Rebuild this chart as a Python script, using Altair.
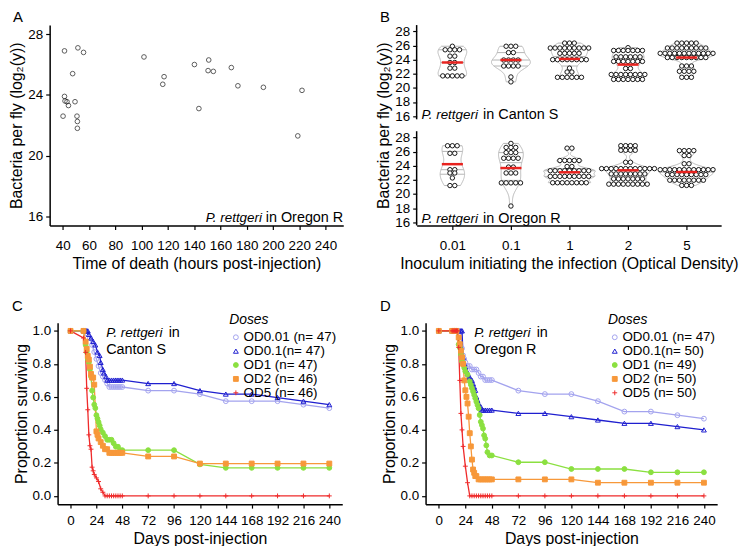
import altair as alt
import pandas as pd
import numpy as np

FONT = "Liberation Sans"

# ---------------- Panel A : load at death vs time of death ----------------
a_time = [41.3, 51.5, 55.8, 47.5, 41.3, 41.7, 43.2, 44.3, 49.3, 40.2, 50.8, 51.1, 51.1,
          101.8, 117.1, 116.1, 140.2, 151.1, 150.6, 154.6, 143.6, 168.3, 173.3, 192.7,
          222.1, 218.9]
a_load = [26.9, 27.1, 26.8, 25.4, 23.9, 23.6, 23.55, 23.3, 23.55, 22.6, 22.6, 22.25, 21.8,
          26.5, 25.2, 24.7, 26.0, 26.3, 25.6, 25.55, 23.1, 25.8, 24.6, 24.5, 24.3, 21.3]

# ---------------- Panel B : load by inoculum dose (dot rows: level, count) ----------------
b_doses = ["0.01", "0.1", "1", "2", "5"]
cs_001_lv = [25.9, 25.4, 24.5, 23.6, 22.8, 21.7]
cs_001_n = [1, 4, 2, 2, 2, 5]
cs_01_lv = [25.9, 25.0, 23.95, 23.1, 21.55, 20.85]
cs_01_n = [3, 2, 4, 4, 1, 1]
cs_1_lv = [26.35, 25.65, 24.9, 24.0, 22.8, 22.25, 21.5]
cs_1_n = [3, 9, 5, 8, 1, 2, 6]
cs_2_lv = [25.7, 25.3, 24.4, 23.75, 22.75, 21.9, 21.2]
cs_2_n = [1, 7, 6, 7, 2, 8, 7]
cs_5_lv = [26.35, 25.65, 24.9, 24.3, 23.1, 22.35, 21.5]
cs_5_n = [5, 9, 12, 9, 3, 4, 3]
cs_mean = [23.6, 23.95, 24.1, 23.3, 24.3]

or_001_lv = [26.84, 25.77, 23.45, 22.98, 22.28, 21.2]
or_001_n = [3, 2, 2, 2, 1, 2]
or_01_lv = [27.17, 26.6, 25.87, 25.07, 23.82, 22.98, 21.58, 18.3]
or_01_n = [1, 3, 3, 4, 2, 3, 5, 1]
or_1_lv = [26.5, 24.75, 23.9, 23.3, 22.5, 21.6]
or_1_n = [2, 5, 2, 9, 9, 8]
or_2_lv = [26.85, 26.2, 24.5, 23.6, 22.85, 22.15, 21.4]
or_2_n = [4, 4, 2, 12, 8, 7, 9]
or_5_lv = [26.15, 25.45, 24.29, 23.45, 22.75, 21.96, 21.22]
or_5_n = [4, 2, 2, 12, 9, 8, 3]
or_mean = [24.23, 23.68, 23.08, 23.36, 23.12]

# ---------------- Panel C : survival, Canton S ----------------
c_labels = ["OD0.01 (n= 47)", "OD0.1(n= 47)", "OD1 (n= 47)", "OD2 (n= 46)", "OD5 (n= 46)"]
c_t_001 = [0, 12, 14, 16, 18, 20, 22, 24, 26, 28, 30, 32, 34, 36, 38, 40, 42, 44, 46, 48, 72, 96, 120, 144, 168, 192, 216, 240]
c_s_001 = [1.0, 1.0, 1.0, 0.979, 0.957, 0.915, 0.872, 0.83, 0.787, 0.745, 0.723, 0.702, 0.681, 0.66, 0.66, 0.66, 0.66, 0.66, 0.66, 0.66, 0.638, 0.638, 0.617, 0.574, 0.574, 0.574, 0.553, 0.532]
c_t_01 = [0, 12, 13, 14, 15, 16, 17, 19, 21, 23, 25, 27, 28, 30, 31, 33, 34, 36, 38, 40, 42, 44, 46, 48, 72, 96, 120, 144, 168, 192, 216, 240]
c_s_01 = [1.0, 1.0, 1.0, 1.0, 1.0, 1.0, 0.979, 0.957, 0.936, 0.915, 0.872, 0.851, 0.809, 0.766, 0.745, 0.723, 0.702, 0.702, 0.702, 0.702, 0.702, 0.702, 0.702, 0.702, 0.681, 0.681, 0.638, 0.617, 0.617, 0.596, 0.574, 0.553]
c_t_1 = [0, 12, 14, 15, 16, 17, 18, 19, 20, 21, 22, 23, 24, 25, 26, 27, 28, 30, 32, 34, 36, 38, 40, 42, 44, 46, 48, 72, 96, 120, 144, 168, 192, 216, 240]
c_s_1 = [1.0, 1.0, 0.915, 0.872, 0.83, 0.809, 0.766, 0.723, 0.638, 0.596, 0.553, 0.532, 0.489, 0.468, 0.447, 0.426, 0.404, 0.383, 0.362, 0.34, 0.34, 0.34, 0.319, 0.298, 0.298, 0.277, 0.277, 0.277, 0.277, 0.191, 0.17, 0.17, 0.17, 0.17, 0.17]
c_t_2 = [0, 12, 14, 15, 16, 17, 18, 19, 20, 21, 22, 24, 25, 26, 28, 30, 32, 34, 36, 38, 40, 42, 44, 46, 48, 72, 96, 120, 144, 168, 192, 216, 240]
c_s_2 = [1.0, 1.0, 0.935, 0.891, 0.848, 0.826, 0.783, 0.739, 0.717, 0.717, 0.674, 0.391, 0.37, 0.348, 0.326, 0.304, 0.283, 0.283, 0.261, 0.261, 0.261, 0.261, 0.261, 0.261, 0.261, 0.239, 0.239, 0.196, 0.196, 0.196, 0.196, 0.196, 0.196]
c_t_5 = [0, 12, 14, 15, 16, 17, 18, 19, 20, 21, 22, 24, 26, 28, 30, 32, 34, 36, 38, 40, 42, 44, 46, 48, 72, 96, 120, 144, 168, 192, 216, 240]
c_s_5 = [1.0, 0.957, 0.87, 0.652, 0.522, 0.37, 0.304, 0.283, 0.174, 0.152, 0.13, 0.109, 0.087, 0.043, 0.022, 0.0, 0.0, 0.0, 0.0, 0.0, 0.0, 0.0, 0.0, 0.0, 0.0, 0.0, 0.0, 0.0, 0.0, 0.0, 0.0, 0.0]

# ---------------- Panel D : survival, Oregon R ----------------
d_labels = ["OD0.01 (n= 47)", "OD0.1(n= 50)", "OD1 (n= 49)", "OD2 (n= 50)", "OD5 (n= 50)"]
d_t_001 = [0, 12, 14, 16, 18, 20, 21, 22, 23, 24, 26, 28, 30, 32, 34, 36, 38, 40, 42, 44, 46, 48, 72, 96, 120, 144, 168, 192, 216, 240]
d_s_001 = [1.0, 1.0, 1.0, 1.0, 1.0, 1.0, 0.894, 0.851, 0.83, 0.809, 0.787, 0.787, 0.766, 0.766, 0.766, 0.745, 0.723, 0.723, 0.702, 0.702, 0.702, 0.702, 0.638, 0.617, 0.617, 0.574, 0.511, 0.511, 0.489, 0.468]
d_t_01 = [0, 12, 14, 16, 18, 20, 21, 22, 23, 24, 25, 26, 27, 28, 29, 30, 31, 32, 33, 34, 35, 36, 37, 38, 39, 40, 42, 44, 46, 48, 72, 96, 120, 144, 168, 192, 216, 240]
d_s_01 = [1.0, 1.0, 1.0, 1.0, 1.0, 1.0, 1.0, 0.84, 0.8, 0.78, 0.76, 0.74, 0.72, 0.72, 0.7, 0.7, 0.68, 0.66, 0.64, 0.6, 0.58, 0.56, 0.54, 0.54, 0.52, 0.52, 0.52, 0.52, 0.52, 0.52, 0.5, 0.5, 0.48, 0.46, 0.44, 0.44, 0.42, 0.4]
d_t_1 = [0, 12, 14, 16, 18, 19, 20, 21, 22, 23, 24, 26, 28, 29, 30, 31, 32, 33, 34, 35, 36, 37, 38, 39, 40, 41, 42, 43, 44, 46, 48, 72, 96, 120, 144, 168, 192, 216, 240]
d_s_1 = [1.0, 1.0, 1.0, 1.0, 0.918, 0.898, 0.857, 0.816, 0.796, 0.776, 0.755, 0.735, 0.694, 0.673, 0.653, 0.633, 0.612, 0.592, 0.571, 0.551, 0.531, 0.49, 0.449, 0.429, 0.408, 0.367, 0.347, 0.306, 0.265, 0.245, 0.245, 0.204, 0.204, 0.163, 0.163, 0.163, 0.143, 0.143, 0.143]
d_t_2 = [0, 12, 14, 16, 18, 19, 20, 21, 22, 23, 24, 25, 26, 27, 28, 29, 30, 31, 32, 33, 34, 36, 38, 40, 42, 44, 46, 48, 72, 96, 120, 144, 168, 192, 216, 240]
d_s_2 = [1.0, 1.0, 1.0, 1.0, 0.96, 0.92, 0.88, 0.84, 0.8, 0.7, 0.64, 0.6, 0.56, 0.48, 0.38, 0.3, 0.22, 0.16, 0.14, 0.12, 0.12, 0.1, 0.1, 0.1, 0.1, 0.1, 0.1, 0.1, 0.1, 0.1, 0.1, 0.08, 0.08, 0.08, 0.08, 0.08]
d_t_5 = [0, 12, 13, 14, 15, 16, 17, 18, 19, 20, 21, 22, 24, 26, 28, 30, 32, 34, 36, 38, 40, 42, 44, 46, 48, 72, 96, 120, 144, 168, 192, 216, 240]
d_s_5 = [1.0, 1.0, 1.0, 1.0, 1.0, 1.0, 1.0, 0.9, 0.7, 0.5, 0.4, 0.3, 0.18, 0.08, 0.0, 0.0, 0.0, 0.0, 0.0, 0.0, 0.0, 0.0, 0.0, 0.0, 0.0, 0.0, 0.0, 0.0, 0.0, 0.0, 0.0, 0.0, 0.0]

DOSE_COLORS = ["#a3a3ee", "#1f1fcf", "#8be040", "#f7983a", "#ef2b2b"]
DOSE_FILLS = ["transparent", "transparent", "#8be040", "#f7983a", "transparent"]
DOSE_SHAPES = ["circle", "triangle-up", "circle", "square", "M-1,0L1,0M0,-1L0,1"]

LETTER_Y = -8
ANN = 14.5      # annotation font size (regular part)
ANN_I = 13.5    # annotation font size (italic species name)
AX = dict(labelOverlap=False, labelFlush=False, labelBound=False, tickCount=60)


def one_row(**kw):
    return pd.DataFrame([kw])


def txt(x, y, s, **style):
    return alt.Chart(one_row(s=s)).mark_text(font=FONT, color="black", **style).encode(
        x=alt.value(x), y=alt.value(y), text="s:N")


# ---------------- build A ----------------
A_W, A_H = 296, 202
a_df = pd.DataFrame({"time": a_time, "load": a_load})
a_pts = alt.Chart(a_df).mark_point(shape="circle", size=22, color="black", strokeWidth=0.9, filled=False).encode(
    x=alt.X("time:Q", scale=alt.Scale(domain=[30, 253.5], nice=False, zero=False),
            axis=alt.Axis(values=list(range(40, 241, 20)), format=".0f", title="Time of death (hours post-injection)",
                          titlePadding=4, labelPadding=9, **AX)),
    y=alt.Y("load:Q", scale=alt.Scale(domain=[15.4, 28.6], nice=False, zero=False),
            axis=alt.Axis(values=[16, 20, 24, 28], format=".0f", title="Bacteria per fly (log\u2082(y))",
                          titlePadding=3, labelPadding=3, **AX)),
)
chart_a = alt.layer(
    a_pts,
    txt(A_W - 82, 195, "P. rettgeri", fontSize=ANN_I, fontStyle="italic", align="right"),
    txt(A_W, 195, "in Oregon R", fontSize=ANN, align="right"),
    txt(-37, LETTER_Y, "A", fontSize=15, align="left"),
).properties(width=A_W, height=A_H)


# ---------------- build B (two stacked panels on one offset y scale) ----------------
def nrd0(x):
    sd = np.std(x, ddof=1)
    q75, q25 = np.percentile(x, [75, 25])
    lo = min(sd, (q75 - q25) / 1.34) if q75 > q25 else sd
    return 0.9 * lo * len(x) ** -0.2


def kde(x, grid, bw):
    z = (grid[:, None] - x[None, :]) / bw
    return np.exp(-0.5 * z * z).sum(1) / (len(x) * bw * np.sqrt(2 * np.pi))


B_W, B_H, PANEL_H = 307, 202, 95
Y_LO, Y_HI = 15.55, 28.9
OFF = (B_H / PANEL_H - 1) * (Y_HI - Y_LO)   # vertical shift of the upper (Canton S) panel
DX = 0.082

vio, qs, ms, dots, frames = [], [], [], [], []
for off, groups, means in [
    (OFF, [(cs_001_lv, cs_001_n), (cs_01_lv, cs_01_n), (cs_1_lv, cs_1_n), (cs_2_lv, cs_2_n), (cs_5_lv, cs_5_n)], cs_mean),
    (0.0, [(or_001_lv, or_001_n), (or_01_lv, or_01_n), (or_1_lv, or_1_n), (or_2_lv, or_2_n), (or_5_lv, or_5_n)], or_mean),
]:
    dens = []
    for lv, cn in groups:
        vals = np.repeat(np.array(lv, float), cn)
        grid = np.linspace(vals.min(), vals.max(), 120)
        dens.append((grid, kde(vals, grid, nrd0(vals)), vals))
    dmax = max(d.max() for _, d, _ in dens)
    for k, ((lv, cn), (grid, d, vals)) in enumerate(zip(groups, dens)):
        pos = k + 1
        gid = f"{off:.1f}-{pos}"
        for g, dd in zip(grid, d):
            w = 0.47 * dd / dmax
            vio.append({"g": gid, "load": g + off, "lo": pos - w, "hi": pos + w})
        for q in np.quantile(vals, [0.25, 0.5, 0.75]):
            w = 0.47 * np.interp(q, grid, d) / dmax
            qs.append({"load": q + off, "lo": pos - w, "hi": pos + w})
        ms.append({"load": means[k] + off, "lo": pos - 0.18, "hi": pos + 0.18})
        for level, c in zip(lv, cn):
            for i in range(c):
                dots.append({"lo": pos + (i - (c - 1) / 2) * DX, "load": level + off})
    frames.append({"load": Y_LO + off, "load2": Y_HI + off})

b_ticks = [float(v) for v in range(16, 29, 2)] + [v + OFF for v in range(16, 29, 2)]
bxs = alt.Scale(domain=[0.39, 5.59], nice=False, zero=False)
bys = alt.Scale(domain=[Y_LO, Y_HI + OFF], nice=False, zero=False)
b_yax = alt.Axis(values=b_ticks, domain=False, titlePadding=3, labelPadding=3,
                 labelExpr=f"datum.value > 29.5 ? format(datum.value - {OFF}, '.0f') : format(datum.value, '.0f')",
                 title="Bacteria per fly (log\u2082(y))", **AX)
b_xax = alt.Axis(values=[1, 2, 3, 4, 5], labelExpr="['0.01','0.1','1','2','5'][datum.value - 1]",
                 title="Inoculum initiating the infection (Optical Density)", titlePadding=4, labelPadding=9, **AX)
BY = alt.Y("load:Q", scale=bys, axis=b_yax)
BX = alt.X("lo:Q", scale=bxs, axis=b_xax)

b_vio = alt.Chart(pd.DataFrame(vio)).mark_area(orient="horizontal", fill="white", fillOpacity=0,
                                               stroke="#b5b5b5", strokeWidth=1).encode(
    y=BY, x=BX, x2="hi:Q", detail="g:N")
b_q = alt.Chart(pd.DataFrame(qs)).mark_rule(color="#b5b5b5", strokeWidth=1).encode(y=BY, x=BX, x2="hi:Q")
b_dots = alt.Chart(pd.DataFrame(dots)).mark_point(shape="circle", size=20, color="black", fill="white",
                                                  filled=False, fillOpacity=1, strokeWidth=0.9).encode(
    x=BX, y=BY)
b_mean = alt.Chart(pd.DataFrame(ms)).mark_rule(color="#e8231f", strokeWidth=2.5).encode(y=BY, x=BX, x2="hi:Q")
b_frame = alt.Chart(pd.DataFrame(frames)).mark_rule(color="black", strokeWidth=1.5).encode(
    x=alt.value(0), y=BY, y2="load2:Q")
chart_b = alt.layer(
    b_vio, b_q, b_dots, b_mean, b_frame,
    txt(5, PANEL_H - 4, "P. rettgeri", fontSize=ANN_I, fontStyle="italic", align="left"),
    txt(67, PANEL_H - 4, "in Canton S", fontSize=ANN, align="left"),
    txt(5, B_H - 6, "P. rettgeri", fontSize=ANN_I, fontStyle="italic", align="left"),
    txt(67, B_H - 6, "in Oregon R", fontSize=ANN, align="left"),
    txt(-37, LETTER_Y, "B", fontSize=15, align="left"),
).properties(width=B_W, height=B_H)

# ---------------- build C / D ----------------
S_H = 183


def surv(labels, series, strain, letter, width, x0, legx):
    rows = []
    for lab, (t, s) in zip(labels, series):
        for ti, si in zip(t, s):
            rows.append({"dose": lab, "t": ti, "s": si})
    df = pd.DataFrame(rows)
    leg = alt.Legend(title="Doses", orient="none", legendX=legx, legendY=-10, titleFontStyle="italic",
                     titleFontWeight="normal", titleFontSize=14, labelFontSize=13.5, rowPadding=-6,
                     symbolSize=24, symbolStrokeWidth=1, padding=0, titlePadding=4, labelOffset=1,
                     labelFont=FONT, titleFont=FONT, labelColor="black", titleColor="black")
    sc = alt.Scale(domain=labels, range=DOSE_COLORS)
    fc = alt.Scale(domain=labels, range=DOSE_FILLS)
    shc = alt.Scale(domain=labels, range=DOSE_SHAPES)
    x = alt.X("t:Q", scale=alt.Scale(domain=[-12, 252], range=[x0, width], nice=False, zero=False),
              axis=alt.Axis(values=list(range(0, 241, 24)), format=".0f", title="Days post-injection",
                            titlePadding=3, labelPadding=6, **AX))
    y = alt.Y("s:Q", scale=alt.Scale(domain=[-0.05, 1.05], nice=False, zero=False),
              axis=alt.Axis(values=[0, 0.2, 0.4, 0.6, 0.8, 1.0], format=".1f", title="Proportion surviving",
                            titlePadding=3, labelPadding=3, offset=-x0, **AX))
    line = alt.Chart(df).mark_line(strokeWidth=1.3).encode(
        x=x, y=y, stroke=alt.Stroke("dose:N", scale=sc, legend=leg), order="t:Q")
    pts = alt.Chart(df).mark_point(size=24, strokeWidth=1, opacity=1).encode(
        x=x, y=y,
        stroke=alt.Stroke("dose:N", scale=sc, legend=leg),
        fill=alt.Fill("dose:N", scale=fc, legend=leg),
        shape=alt.Shape("dose:N", scale=shc, legend=leg))
    return alt.layer(
        line, pts,
        txt(x0 + 49, 10, "P. rettgeri", fontSize=ANN_I, fontStyle="italic", align="left"),
        txt(x0 + 112, 10, "in", fontSize=ANN, align="left"),
        txt(x0 + 49, 28, strain, fontSize=ANN, align="left"),
        txt(x0 - 46, LETTER_Y - 9, letter, fontSize=15, align="left"),
    ).properties(width=width, height=S_H)


chart_c = surv(c_labels, [(c_t_001, c_s_001), (c_t_01, c_s_01), (c_t_1, c_s_1), (c_t_2, c_s_2), (c_t_5, c_s_5)],
               "Canton S", "C", 295, 8, 181)
chart_d = surv(d_labels, [(d_t_001, d_s_001), (d_t_01, d_s_01), (d_t_1, d_s_1), (d_t_2, d_s_2), (d_t_5, d_s_5)],
               "Oregon R", "D", 303, 9, 193)

chart = alt.concat(chart_a, chart_b, chart_c, chart_d, columns=2, align="none", bounds="flush",
                   spacing={"row": 98, "column": 74}).resolve_scale(
    x="independent", y="independent", stroke="independent", fill="independent", shape="independent"
).resolve_legend(stroke="independent", fill="independent", shape="independent").properties(
    padding={"left": 0, "top": 0, "right": 0, "bottom": 0}, background="white"
).configure(font=FONT).configure_view(strokeWidth=0).configure_axis(
    domainColor="black", domainWidth=1.5, tickColor="black", tickWidth=1.2, tickSize=4,
    labelColor="black", labelFontSize=13.5, labelFont=FONT, titleFont=FONT, titleFontSize=16,
    titleFontWeight="normal", titleColor="black", grid=False, labelOverlap=False,
)

chart.save("out.html", embed_options={"renderer": "svg", "actions": False})
